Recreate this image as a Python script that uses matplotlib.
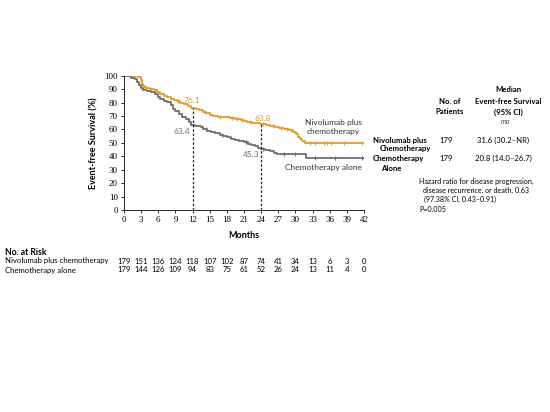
import numpy as np
import matplotlib.pyplot as plt
from matplotlib.transforms import blended_transform_factory

plt.rcParams['font.family'] = ['Lato', 'DejaVu Sans']

# step curves (months, event-free survival %)
nivo_t = [0, 1.5, 2.5, 2.9, 3.1, 3.3, 3.6, 4.5, 5.2, 5.8, 6.3, 7.0, 7.6, 8.2, 8.8,
          9.3, 9.8, 10.5, 11.2, 11.8, 12.6, 13.2, 13.8, 14.4, 15.0, 15.6, 16.5,
          17.5, 18.5, 19.5, 20.4, 21.0, 21.6, 22.4, 23.2, 23.8, 24.8, 25.6, 26.4,
          27.2, 28.0, 28.8, 29.6, 30.1, 30.4, 30.8, 31.2, 31.6, 42]
nivo_s = [100, 99.4, 98.9, 97, 94, 92, 91, 90, 89, 87.5, 86, 85, 84, 83, 82,
          81, 80, 79, 77.5, 76.1, 75.4, 74.3, 73, 72, 71, 70.2, 69.6,
          69, 68.4, 67.8, 67.2, 66.5, 65.8, 65.1, 64.4, 63.8, 63.1, 62.4, 61.8,
          61.1, 60.2, 59.4, 58.4, 56.5, 54.5, 52.5, 51, 49.7, 49.7]
chemo_t = [0, 0.7, 1.3, 1.9, 2.3, 2.6, 2.9, 3.3, 4.0, 4.8, 5.4, 5.9, 6.3, 7.0, 7.6,
           8.2, 8.6, 9.0, 9.6, 10.2, 10.8, 11.3, 11.8, 12.5, 13.4, 13.9, 14.6,
           15.2, 16.0, 16.8, 17.4, 18.0, 18.7, 19.4, 20.2, 21.0, 21.7, 22.3, 22.9,
           23.5, 24.0, 24.7, 25.5, 26.2, 26.8, 31.9, 42]
chemo_s = [100, 99.4, 98.3, 97.2, 95.5, 93.3, 91, 89.5, 88.5, 87.7, 86.5, 84.5,
           82.5, 81.5, 80.5, 78, 75.5, 73.5, 71.5, 69.5, 67.5, 65.5, 63.4, 62.5,
           61.8, 60.5, 58.5, 57.8, 57, 56, 55, 54, 53, 52, 51.2, 50.5, 49.5, 48.5,
           47.5, 46.3, 45.3, 44.6, 43.8, 42.8, 41.5, 38.5, 38.5]
nivo_cens = [3.8, 9.5, 14.1, 16.8, 18.9, 19.8, 20.7, 22.0, 24.4, 26.0, 27.5,
             28.5, 29.3, 32.5, 33.5, 35.0, 35.5, 36.3, 38.5, 41.7]
chemo_cens = [14.3, 17.1, 21.3, 24.4, 28.0, 30.0, 33.5, 37.0, 41.7]

months = np.arange(0, 43, 3)
risk_nivo = [179, 151, 136, 124, 118, 107, 102, 87, 74, 41, 34, 13, 6, 3, 0]
risk_chemo = [179, 144, 126, 109, 94, 83, 75, 61, 52, 26, 24, 13, 11, 4, 0]

orange = '#E39B2E'
gray = '#6E6E6E'

fig = plt.figure(figsize=(5.5, 4.12), dpi=100)
ax = fig.add_axes([0.2255, 0.4903, 0.4364, 0.3260])

ax.step(nivo_t, nivo_s, where='post', color=orange, lw=1.3)
ax.step(chemo_t, chemo_s, where='post', color=gray, lw=1.3)

def surv_at(t, ts, ss):
    i = np.searchsorted(ts, t, side='right') - 1
    return np.array(ss)[i]

ax.plot(nivo_cens, surv_at(nivo_cens, nivo_t, nivo_s), ls='none', marker='|',
        ms=3, mew=0.8, color=orange)
ax.plot(chemo_cens, surv_at(chemo_cens, chemo_t, chemo_s), ls='none', marker='|',
        ms=3, mew=0.8, color=gray)

# landmark lines
ax.plot([12, 12], [0, 76.1], ls=(0, (2, 1.5)), color='#222222', lw=0.9)
ax.plot([24, 24], [0, 63.8], ls=(0, (2, 1.5)), color='#222222', lw=0.9)
ax.text(11.9, 81.5, '76.1', color=orange, fontsize=6, ha='center', va='center')
ax.text(24.2, 68, '63.8', color=orange, fontsize=6, ha='center', va='center')
ax.text(11.6, 58.5, '63.4', color=gray, fontsize=6, ha='right', va='center')
ax.text(23.7, 41.5, '45.3', color=gray, fontsize=6, ha='right', va='center')

ax.text(36.6, 62, 'Nivolumab plus\nchemotherapy', fontsize=6, ha='center',
        va='center', color='#333333', linespacing=1.3)
ax.text(34.9, 32, 'Chemotherapy alone', fontsize=6, ha='center', va='center',
        color='#333333')

ax.set_xlim(0, 42)
ax.set_ylim(0, 100)
yt = np.arange(0, 101, 10)
ax.set_xticks(months, labels=[str(m) for m in months],
              fontfamily='Liberation Serif', fontsize=6.5)
ax.set_yticks(yt, labels=[str(v) for v in yt],
              fontfamily='Liberation Serif', fontsize=6.5)
ax.tick_params(length=2.5, width=0.6, pad=2)
for s in ['top', 'right']:
    ax.spines[s].set_visible(False)
for s in ['left', 'bottom']:
    ax.spines[s].set_linewidth(0.6)
ax.set_xlabel('Months', fontsize=6.5, fontweight='bold', labelpad=5)
ax.set_ylabel('Event-free Survival (%)', fontsize=6.5, fontweight='bold', labelpad=4)

# table at right
def ft(x, y, s, **kw):
    kw.setdefault('fontsize', 5.6)
    fig.text(x / 550, 1 - y / 412, s, va='center', **kw)

ft(450, 101, 'No. of', ha='center', fontweight='bold')
ft(450, 112, 'Patients', ha='center', fontweight='bold')
ft(508, 90, 'Median', ha='center', fontweight='bold')
ft(508, 101, 'Event-free Survival', ha='center', fontweight='bold')
ft(508, 112, '(95% CI)', ha='center', fontweight='bold')
ft(506, 122, 'mo', ha='center', style='italic', fontsize=5.2, color='#444444')

ft(373, 140, 'Nivolumab plus', ha='left', fontweight='bold')
ft(380, 149, 'Chemotherapy', ha='left', fontweight='bold')
ft(373, 158, 'Chemotherapy', ha='left', fontweight='bold')
ft(381, 168, 'Alone', ha='left', fontweight='bold')
ft(446, 140, '179', ha='center')
ft(446, 158, '179', ha='center')
ft(503, 140, '31.6 (30.2\u2013NR)', ha='center')
ft(503, 158, '20.8 (14.0\u201326.7)', ha='center')

ft(419, 181, 'Hazard ratio for disease progression,', ha='left', fontsize=5.1)
ft(423, 190, 'disease recurrence, or death, 0.63', ha='left', fontsize=5.1)
ft(424, 199, '(97.38% CI, 0.43\u20130.91)', ha='left', fontsize=5.1)
ft(419, 209, 'P=0.005', ha='left', fontsize=5.1)

# number at risk
ft(5, 253, 'No. at Risk', ha='left', fontweight='bold', fontsize=6.2)
ft(5, 261, 'Nivolumab plus chemotherapy', ha='left')
ft(5, 270, 'Chemotherapy alone', ha='left')
tr = blended_transform_factory(ax.transData, fig.transFigure)
for m, a, b in zip(months, risk_nivo, risk_chemo):
    ax.text(m, 1 - 261 / 412, str(a), transform=tr, fontsize=5.6,
            ha='center', va='center')
    ax.text(m, 1 - 270 / 412, str(b), transform=tr, fontsize=5.6,
            ha='center', va='center')

fig.savefig('out.png', dpi=100)
